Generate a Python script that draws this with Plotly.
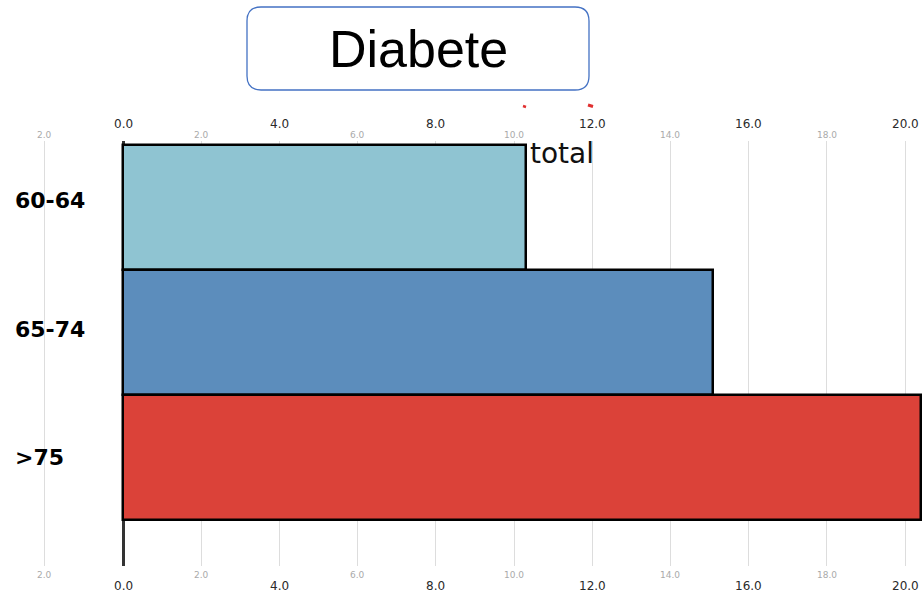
import plotly.graph_objects as go

# Age groups and their values
categories = ["60-64", "65-74", ">75"]
values = [10.3, 15.1, 20.4]
bar_colors = ["#8FC4D2", "#5C8DBC", "#DB4239"]

# Axis tick labels: main (dark) and secondary (small/grey)
main_ticks = [0, 4, 8, 12, 16, 20]
minor_ticks = [-2, 2, 6, 10, 14, 18]
minor_labels = ["2.0", "2.0", "6.0", "10.0", "14.0", "18.0"]

W, H = 922, 598
M_T, M_B = 141, 32
PLOT_H = H - M_T - M_B


def py(pixel_y):
    """Convert a pixel row into paper y coordinates."""
    return (H - M_B - pixel_y) / PLOT_H


def px(pixel_x):
    return pixel_x / W


fig = go.Figure()
fig.add_trace(go.Bar(
    y=categories,
    x=values,
    orientation="h",
    width=1,
    marker=dict(color=bar_colors, line=dict(color="#000000", width=2.5)),
    hoverinfo="x+y",
))

annotations = []
for t in main_ticks:
    for yy in (py(124), py(586)):
        annotations.append(dict(
            x=t, y=yy, xref="x", yref="paper", text=f"{t:.1f}",
            showarrow=False, xanchor="center", yanchor="middle",
            font=dict(family="DejaVu Sans", size=12, color="#2A2A2A"),
        ))
for t, lab in zip(minor_ticks, minor_labels):
    for yy in (py(135), py(575)):
        annotations.append(dict(
            x=t, y=yy, xref="x", yref="paper", text=lab,
            showarrow=False, xanchor="center", yanchor="middle",
            font=dict(family="DejaVu Sans", size=9, color="#AAAAAA"),
        ))
label_shift = [7, 3, 0]
for c, s in zip(categories, label_shift):
    annotations.append(dict(
        x=px(13), y=c, xref="paper", yref="y", text=f"<b>{c}</b>",
        showarrow=False, xanchor="left", yanchor="middle", yshift=s,
        font=dict(family="DejaVu Sans", size=22, color="#000000"),
    ))

# Series label and title
annotations.append(dict(
    x=px(528), y=py(153), xref="paper", yref="paper", text="total",
    showarrow=False, xanchor="left", yanchor="middle",
    font=dict(family="DejaVu Sans", size=28, color="#111111"),
))
annotations.append(dict(
    x=px(418), y=py(49), xref="paper", yref="paper", text="Diabete",
    showarrow=False, xanchor="center", yanchor="middle",
    font=dict(family="Liberation Sans, Arial", size=52, color="#000000"),
))


def rounded_rect(x0, y0, x1, y1, r):
    """Rounded rectangle path in paper coordinates from pixel corners."""
    X0, X1 = px(x0), px(x1)
    Y0, Y1 = py(y0), py(y1)
    rx, ry = r / W, r / PLOT_H
    return (
        f"M {X0 + rx},{Y0} L {X1 - rx},{Y0} Q {X1},{Y0} {X1},{Y0 - ry} "
        f"L {X1},{Y1 + ry} Q {X1},{Y1} {X1 - rx},{Y1} "
        f"L {X0 + rx},{Y1} Q {X0},{Y1} {X0},{Y1 + ry} "
        f"L {X0},{Y0 - ry} Q {X0},{Y0} {X0 + rx},{Y0} Z"
    )


shapes = [
    dict(type="path", xref="paper", yref="paper",
         path=rounded_rect(247, 7, 589, 90, 14),
         line=dict(color="#4472C4", width=1.3), fillcolor="rgba(0,0,0,0)"),
    # small red fragments above the plot
    dict(type="line", xref="paper", yref="paper",
         x0=px(523), x1=px(526), y0=py(106), y1=py(107),
         line=dict(color="#E03030", width=2.5)),
    dict(type="line", xref="paper", yref="paper",
         x0=px(588), x1=px(593), y0=py(105), y1=py(106.5),
         line=dict(color="#E03030", width=3)),
]

x_per_px = 20 / (905 - 123)
x_lo = -123 * x_per_px
x_hi = (W - 123) * x_per_px

fig.update_layout(
    width=W, height=H,
    margin=dict(l=0, r=0, t=M_T, b=M_B, pad=0),
    paper_bgcolor="white", plot_bgcolor="white",
    showlegend=False, bargap=0,
    xaxis=dict(
        range=[x_lo, x_hi], tick0=0, dtick=2, showgrid=True,
        gridcolor="#DDDDDD", gridwidth=1, showticklabels=False, ticks="",
        zeroline=True, zerolinecolor="#333333", zerolinewidth=2.5,
        showline=False, fixedrange=True,
    ),
    yaxis=dict(
        type="category", range=[2.868, -0.532], showticklabels=False,
        showgrid=False, zeroline=False, showline=False, ticks="",
        fixedrange=True,
    ),
    annotations=annotations,
    shapes=shapes,
)

fig.write_html("out.html")
